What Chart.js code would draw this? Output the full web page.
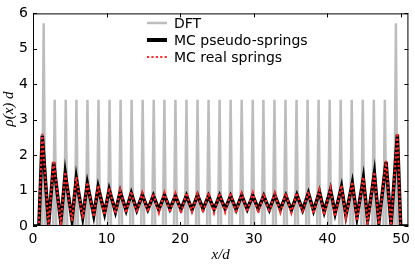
<!DOCTYPE html>
<html>
<head>
<meta charset="utf-8">
<script src="https://cdn.jsdelivr.net/npm/chart.js@4.4.1/dist/chart.umd.min.js"></script>
<style>
  html, body { margin: 0; padding: 0; background: #fff; }
  #wrap { width: 415px; height: 265px; }
</style>
</head>
<body>
<div id="wrap"><canvas id="densityChart" width="415" height="265"></canvas></div>
<script>
// tick labels
const xTicks = [0, 10, 20, 30, 40, 50];
const yTicks = [0, 1, 2, 3, 4, 5, 6];

// DFT density: narrow peaks, zero in between
const dftX = [0,
    1.25, 1.45, 1.65,   2.75, 2.95, 3.15,   4.25, 4.45, 4.65,   5.7, 5.9, 6.1,
    7.2, 7.4, 7.6,      8.7, 8.9, 9.1,      10.2, 10.4, 10.6,   11.7, 11.9, 12.1,
    13.2, 13.4, 13.6,   14.7, 14.9, 15.1,   16.2, 16.4, 16.6,   17.65, 17.85, 18.05,
    19.15, 19.35, 19.55, 20.65, 20.85, 21.05, 22.15, 22.35, 22.55, 23.65, 23.85, 24.05,
    25.15, 25.35, 25.55, 26.65, 26.85, 27.05, 28.15, 28.35, 28.55, 29.65, 29.85, 30.05,
    31.1, 31.3, 31.5,   32.6, 32.8, 33.0,   34.1, 34.3, 34.5,   35.6, 35.8, 36.0,
    37.1, 37.3, 37.5,   38.6, 38.8, 39.0,   40.1, 40.3, 40.5,   41.6, 41.8, 42.0,
    43.1, 43.3, 43.5,   44.6, 44.8, 45.0,   46.1, 46.3, 46.5,   47.6, 47.8, 48.0,
    49.1, 49.3, 49.5,
    51];
const dftY = [0,
    0, 5.72, 0,   0, 3.56, 0,   0, 3.56, 0,   0, 3.56, 0,
    0, 3.56, 0,   0, 3.56, 0,   0, 3.56, 0,   0, 3.56, 0,
    0, 3.56, 0,   0, 3.56, 0,   0, 3.56, 0,   0, 3.56, 0,
    0, 3.56, 0,   0, 3.56, 0,   0, 3.56, 0,   0, 3.56, 0,
    0, 3.56, 0,   0, 3.56, 0,   0, 3.56, 0,   0, 3.56, 0,
    0, 3.56, 0,   0, 3.56, 0,   0, 3.56, 0,   0, 3.56, 0,
    0, 3.56, 0,   0, 3.56, 0,   0, 3.56, 0,   0, 3.56, 0,
    0, 3.56, 0,   0, 3.56, 0,   0, 3.56, 0,   0, 3.56, 0,
    0, 5.72, 0,
    0];

// Monte Carlo profiles (peaks and troughs)
const mcX = [0, 0.8,
    1.26,
    2.12, 2.8, 3.78, 4.38, 5.3, 5.88, 6.75, 7.38, 8.25, 8.85, 9.72, 10.35, 11.2, 11.85, 12.65, 13.35,
    14.1, 14.85, 15.6, 16.35, 17.1, 17.85, 18.6, 19.35, 20.1, 20.85, 21.6, 22.35, 23.1, 23.85,
    24.6, 25.35, 26.1, 26.85, 27.6, 28.35, 29.1, 29.85, 30.6, 31.35, 32.1, 32.85, 33.6, 34.35,
    35.1, 35.85,
    36.63, 37.41, 38.11, 38.91, 39.56, 40.41, 41.04, 41.91, 42.51, 43.38, 44.01, 44.88,
    45.46, 46.38, 46.98, 47.96, 48.64, 49.5,
    49.95, 51];
const mcPseudo = [0, 0,
    2.55,
    0.03, 1.80, 0.10, 1.49, 0.17, 1.35, 0.25, 1.20, 0.30, 1.10, 0.36, 1.03, 0.40, 0.97, 0.44, 0.93,
    0.45, 0.88, 0.47, 0.86, 0.46, 0.87, 0.48, 0.85, 0.47, 0.86, 0.46, 0.87, 0.48, 0.85,
    0.47, 0.86, 0.48, 0.85, 0.46, 0.87, 0.47, 0.86, 0.48, 0.85, 0.46, 0.87, 0.47, 0.86,
    0.45, 0.88,
    0.45, 0.93, 0.43, 0.97, 0.40, 1.03, 0.36, 1.11, 0.30, 1.21, 0.25, 1.35,
    0.17, 1.49, 0.10, 1.81, 0.04, 2.58,
    0, 0];
const mcReal = [0, 0,
    2.60,
    0.02, 1.84, 0.08, 1.52, 0.14, 1.38, 0.21, 1.23, 0.26, 1.14, 0.31, 1.07, 0.35, 1.01, 0.37, 0.97,
    0.38, 0.93, 0.40, 0.91, 0.37, 0.94, 0.39, 0.92, 0.36, 0.93, 0.40, 0.91, 0.38, 0.94,
    0.37, 0.92, 0.39, 0.93, 0.36, 0.92, 0.40, 0.94, 0.37, 0.91, 0.39, 0.93, 0.38, 0.92,
    0.37, 0.93,
    0.37, 0.97, 0.35, 1.01, 0.31, 1.07, 0.27, 1.15, 0.22, 1.24, 0.15, 1.38,
    0.09, 1.52, 0.05, 1.84, 0.02, 2.62,
    0, 0];

const toPoints = (xs, ys) => xs.map((x, i) => ({ x: x, y: ys[i] }));

// frame, inward ticks, legend and axis titles, matplotlib style
const decorations = {
    id: "decorations",
    afterDraw(chart) {
        const ctx = chart.ctx;
        const a = chart.chartArea;
        const xs = chart.scales.x, ys = chart.scales.y;
        ctx.save();
        ctx.strokeStyle = "#000";
        ctx.lineWidth = 1;
        ctx.strokeRect(a.left + 0.5, a.top + 0.5, a.right - a.left - 1, a.bottom - a.top - 1);
        ctx.beginPath();
        xTicks.forEach(v => {
            const px = Math.round(xs.getPixelForValue(v)) + 0.5;
            ctx.moveTo(px, a.bottom); ctx.lineTo(px, a.bottom - 4);
            ctx.moveTo(px, a.top); ctx.lineTo(px, a.top + 4);
        });
        yTicks.forEach(v => {
            const py = Math.round(ys.getPixelForValue(v)) + 0.5;
            ctx.moveTo(a.left, py); ctx.lineTo(a.left + 4, py);
            ctx.moveTo(a.right, py); ctx.lineTo(a.right - 4, py);
        });
        ctx.stroke();

        // legend
        ctx.font = "14px 'DejaVu Sans'";
        ctx.textBaseline = "middle";
        ctx.fillStyle = "#000";
        chart.data.datasets.forEach((ds, i) => {
            const y = 23 + i * 17;
            ctx.beginPath();
            ctx.strokeStyle = ds.borderColor;
            ctx.lineWidth = ds.label === "MC pseudo-springs" ? 4 : ds.borderWidth;
            ctx.setLineDash(ds.borderDash || []);
            ctx.moveTo(147, y); ctx.lineTo(167, y);
            ctx.stroke();
            ctx.setLineDash([]);
            ctx.fillText(ds.label, 174, y + 1);
        });

        // axis titles
        ctx.font = "italic 15px 'Liberation Serif'";
        ctx.textAlign = "center";
        ctx.fillText("x/d", (a.left + a.right) / 2, 255);
        ctx.translate(9, 109);
        ctx.rotate(-Math.PI / 2);
        ctx.fillText("\u03c1(x) d", 0, 0);
        ctx.restore();
    }
};

new Chart(document.getElementById("densityChart"), {
    type: "line",
    data: {
        datasets: [
            {
                label: "DFT",
                data: toPoints(dftX, dftY),
                borderColor: "#bdbdbd",
                borderWidth: 2.5,
                order: 3,
            },
            {
                label: "MC pseudo-springs",
                data: toPoints(mcX, mcPseudo),
                borderColor: "#000000",
                borderWidth: 3.5,
                order: 2,
            },
            {
                label: "MC real springs",
                data: toPoints(mcX, mcReal),
                borderColor: "#ff2a2a",
                borderWidth: 2.2,
                borderDash: [2.2, 2.2],
                order: 1,
            },
        ],
    },
    options: {
        responsive: false,
        animation: false,
        events: [],
        layout: { padding: { top: 7, right: 2, left: 0, bottom: 0 } },
        elements: { point: { radius: 0 }, line: { tension: 0, borderJoinStyle: "miter" } },
        plugins: { legend: { display: false }, tooltip: { enabled: false } },
        scales: {
            x: {
                type: "linear",
                min: 0,
                max: 51,
                grid: { display: false, drawTicks: false },
                border: { display: false },
                afterBuildTicks: s => { s.ticks = xTicks.map(v => ({ value: v })); },
                afterFit: s => { s.height = 39; },
                ticks: { color: "#000", font: { family: "DejaVu Sans", size: 14 }, padding: 5, maxRotation: 0 },
            },
            y: {
                min: 0,
                max: 6,
                grid: { display: false, drawTicks: false },
                border: { display: false },
                afterBuildTicks: s => { s.ticks = yTicks.map(v => ({ value: v })); },
                afterFit: s => { s.width = 33; },
                ticks: { color: "#000", font: { family: "DejaVu Sans", size: 14 }, padding: 5 },
            },
        },
    },
    plugins: [decorations],
});
</script>
</body>
</html>
